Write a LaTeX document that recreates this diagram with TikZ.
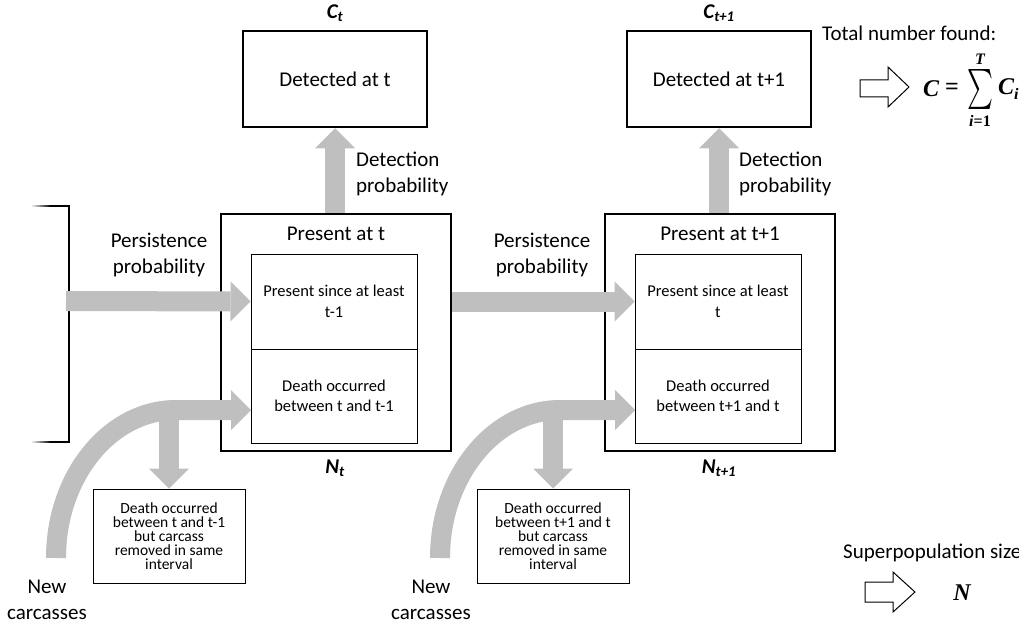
\documentclass[tikz,border=0pt]{standalone}
\usepackage{fontspec}
\usepackage{graphicx}
\setmainfont{Carlito}
\newfontfamily\fmf{Liberation Serif}
\usetikzlibrary{arrows.meta,calc}
\definecolor{arrowgray}{RGB}{191,191,191}
\tikzset{
  bigbox/.style={draw, line width=2.5pt, inner sep=0pt},
  thinbox/.style={draw, line width=1pt, inner sep=0pt},
  lbl/.style={font=\fontsize{21}{26}\selectfont, inner sep=0pt, align=center},
  lblleft/.style={font=\fontsize{21}{26}\selectfont, inner sep=0pt, align=left, anchor=west},
  intext/.style={font=\fontsize{16.5}{20.5}\selectfont, align=center},
  smalltext/.style={font=\fontsize{15.5}{14}\selectfont, align=center},
  varlbl/.style={font=\fontsize{21}{25}\selectfont\bfseries\itshape, inner sep=0pt},
  fm/.style={font=\fontsize{24}{28}\selectfont\fmf\bfseries\itshape, inner sep=0pt},
  fmsmall/.style={font=\fontsize{16}{18}\selectfont\fmf\bfseries\itshape, inner sep=0pt},
  garrow/.style={draw=arrowgray, line width=20pt, -{Triangle[length=20pt, width=40pt, line width=0pt]}},
  hollow/.style={draw, line width=1pt, fill=white, line join=miter},
}
\begin{document}
\begin{tikzpicture}[x=1pt, y=-1pt]
\useasboundingbox (0,0) rectangle (1019,623);

% ---------- group t ----------
\node[bigbox, minimum width=184pt, minimum height=96pt, font=\fontsize{21}{25}\selectfont] (det1) at (335,79) {Detected at t};
\node[varlbl] (ct1) at (335,13) {C\textsubscript{t}};
\node[bigbox, minimum width=230pt, minimum height=237pt] (pres1) at (336,332.5) {};
\node[lbl] (prest1) at (336,234) {Present at t};
\node[thinbox, minimum width=166pt, minimum height=95pt, intext] (inA1) at (334,301.5) {Present since at least\\t-1};
\node[thinbox, minimum width=166pt, minimum height=94pt, intext] (inB1) at (334,396) {Death occurred\\between t and t-1};
\node[varlbl] (nt1) at (335,468) {N\textsubscript{t}};
\node[thinbox, minimum width=152pt, minimum height=94pt, smalltext] (sm1) at (169,536) {Death occurred\\between t and t-1\\but carcass\\removed in same\\interval};
\node[lbl] (nc1t) at (47,600) {New\\carcasses};
\node[lbl] (pp1) at (159,255) {Persistence\\probability};
\node[lblleft] (dp1) at (356,174) {Detection\\probability};

% bracket (left ends fade out)
\foreach \i in {0,...,9} {
  \draw[line width=2.5pt, draw=black!\the\numexpr 10*\i+10\relax] (32+2*\i,206) -- (34.2+2*\i,206);
  \draw[line width=2.5pt, draw=black!\the\numexpr 10*\i+10\relax] (32+2*\i,442) -- (34.2+2*\i,442);
}
\draw[line width=2.5pt, line join=miter] (52,206) -- (69,206) -- (69,442) -- (52,442);

% ---------- group t+1 ----------
\node[bigbox, minimum width=184pt, minimum height=96pt, font=\fontsize{21}{25}\selectfont] (det2) at (719,79) {Detected at t+1};
\node[varlbl] (ct2) at (719,13) {C\textsubscript{t+1}};
\node[bigbox, minimum width=230pt, minimum height=237pt] (pres2) at (720,332.5) {};
\node[lbl] (prest2) at (720,234) {Present at t+1};
\node[thinbox, minimum width=166pt, minimum height=95pt, intext] (inA2) at (718,301.5) {Present since at least\\t};
\node[thinbox, minimum width=166pt, minimum height=94pt, intext] (inB2) at (718,396) {Death occurred\\between t+1 and t};
\node[varlbl] (nt2) at (719,468) {N\textsubscript{t+1}};
\node[thinbox, minimum width=152pt, minimum height=94pt, smalltext] (sm2) at (553,536) {Death occurred\\between t+1 and t\\but carcass\\removed in same\\interval};
\node[lbl] (nc2t) at (431,600) {New\\carcasses};
\node[lbl] (pp2) at (542,255) {Persistence\\probability};
\node[lblleft] (dp2) at (739,174) {Detection\\probability};

% ---------- gray arrows ----------
\coordinate (bk) at (66,301);
\draw[garrow] (bk) -- (inA1.west);
\draw[garrow] (pres1.east |- inA2.west) -- (inA2.west);
\draw[garrow] (pres1.north -| det1.south) -- (det1.south);
\draw[garrow] (pres2.north -| det2.south) -- (det2.south);

\coordinate (cs1) at (56,558);
\coordinate (ce1) at (251,410);
\draw[garrow] (cs1) .. controls (56,476) and (110,410) .. (176,410) -- (ce1);
\coordinate (dn1) at (169,404);
\draw[garrow] (dn1) -- (sm1.north);

\coordinate (cs2) at (440,558);
\coordinate (ce2) at (635,410);
\draw[garrow] (cs2) .. controls (440,476) and (494,410) .. (560,410) -- (ce2);
\coordinate (dn2) at (553,404);
\draw[garrow] (dn2) -- (sm2.north);

% ---------- right side ----------
\node[lblleft] (tot) at (822,33) {Total number found:};
\draw[hollow] (860,80) -- (888,80) -- (888,67) -- (909,87) -- (888,107) -- (888,97) -- (860,97) -- cycle;
\node[fm] (fC) at (931,89) {C};
\node[fm] (feq) at (952,89) {\upshape =};
\node[inner sep=0pt] (fsum) at (980,90) {\resizebox*{26pt}{40pt}{$\textstyle\sum$}};
\node[fmsmall] (fT) at (980,59) {T};
\node[fmsmall] (fi) at (980,121) {i\upshape =1};
\node[fm, anchor=west] (fCi) at (998,89) {C\raisebox{-5pt}{\fontsize{16}{16}\selectfont i}};

\node[lblleft] (sup) at (843,553) {Superpopulation size};
\draw[hollow] (865,582) -- (893,582) -- (893,572) -- (915,592) -- (893,612) -- (893,602) -- (865,602) -- cycle;
\node[fm] (fN) at (962,593) {N};
\end{tikzpicture}
\end{document}
